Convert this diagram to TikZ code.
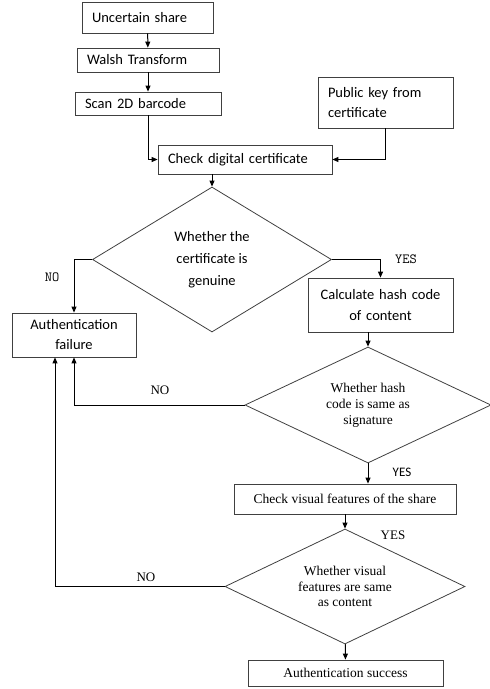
\documentclass[tikz,border=0pt]{standalone}
\usepackage{fontspec}
\setmainfont{Liberation Serif}
\newfontfamily\sansfnt{Carlito}
\usetikzlibrary{shapes.geometric,arrows.meta}

\tikzset{
    box/.style={draw=black!75,line width=.8pt,inner xsep=10pt,inner ysep=0pt,align=left,
        font=\sansfnt\fontsize{14.5}{20}\selectfont},
    cbox/.style={box,inner xsep=4pt,align=center},
    tbox/.style={draw=black!75,line width=.8pt,inner sep=0pt,
        font=\fontsize{13.5}{16}\selectfont},
    dia/.style={diamond,draw=black!75,line width=.8pt,inner sep=0pt,align=center},
    arr/.style={line width=1pt,-{Triangle[length=6pt,width=5pt]}},
    serlabel/.style={font=\fontsize{13}{16}\selectfont},
    ttlabel/.style={font=\ttfamily\fontsize{14}{16}\selectfont\addfontfeature{LetterSpace=25}}
}

\begin{document}
\begin{tikzpicture}[x=1pt,y=-1pt]
\useasboundingbox (0,0) rectangle (490,689);

% top chain
\node[box,text width=111pt,minimum height=31pt] (uncertain) at (147.5,17.5) {Uncertain share};
\node[box,text width=122pt,minimum height=24pt] (walsh) at (148,60) {Walsh Transform};
\node[box,text width=126pt,minimum height=23pt] (scan) at (148,103.5) {Scan 2D barcode};
\node[box,text width=115pt,minimum height=51pt] (pubkey) at (385.5,102.5) {Public key from\\certificate};
\node[box,text width=154pt,minimum height=29pt] (checkcert) at (245,159.5) {Check digital certificate};

% decisions
\node[dia,aspect=1.65,minimum width=239pt,minimum height=145pt,
    font=\sansfnt\fontsize{14.5}{22}\selectfont] (genuine) at (212,259.5)
    {Whether the\\certificate is\\genuine};
\node[cbox,text width=116pt,minimum height=44pt] (failure) at (74,335) {Authentication\\failure};
\node[cbox,text width=137pt,minimum height=54pt,font=\sansfnt\fontsize{14.5}{21}\selectfont] (hash) at (380.5,305)
    {Calculate hash code\\of content};
\node[dia,aspect=2.1,minimum width=246pt,minimum height=116pt,
    font=\fontsize{13.5}{16}\selectfont] (samesig) at (368,405)
    {Whether hash\\code is same as\\signature};
\node[tbox,minimum width=222pt,minimum height=30pt] (visual) at (345,499) {Check visual features of the share};
\node[dia,aspect=2.1,minimum width=240pt,minimum height=115pt,
    font=\fontsize{13.5}{15.5}\selectfont] (samecont) at (345,586.5)
    {Whether visual\\features are same\\as content};
\node[tbox,minimum width=195pt,minimum height=26pt] (success) at (345.5,673) {Authentication success};

\coordinate (failin) at ([xshift=-19pt]failure.south);

% connectors
\draw[arr] (uncertain) -- (walsh);
\draw[arr] (walsh) -- (scan);
\draw[arr] (scan.south) |- (checkcert.west);
\draw[arr] (pubkey.south) |- (checkcert.east);
\draw[arr] (genuine.north |- checkcert.south) -- (genuine.north);
\draw[arr] (genuine.west) -| (failure.north);
\draw[arr] (genuine.east) -| (hash.north);
\draw[arr] (samesig.north |- hash.south) -- (samesig.north);
\draw[arr] (samesig.west) -| (failure.south);
\draw[arr] (samesig.south) -- (samesig.south |- visual.north);
\draw[arr] (visual) -- (samecont);
\draw[arr] (samecont.west) -| (failin);
\draw[arr] (samecont) -- (success);

% labels
\node[ttlabel] (no1) at (52,277) {NO};
\node[ttlabel] (yes1) at (406,259) {YES};
\node[serlabel] (no2) at (160,390) {NO};
\node[font=\sansfnt\fontsize{13}{16}\selectfont] (yes2) at (402,472) {YES};
\node[serlabel] (yes3) at (393,535) {YES};
\node[serlabel] (no3) at (146,577) {NO};
\end{tikzpicture}
\end{document}
